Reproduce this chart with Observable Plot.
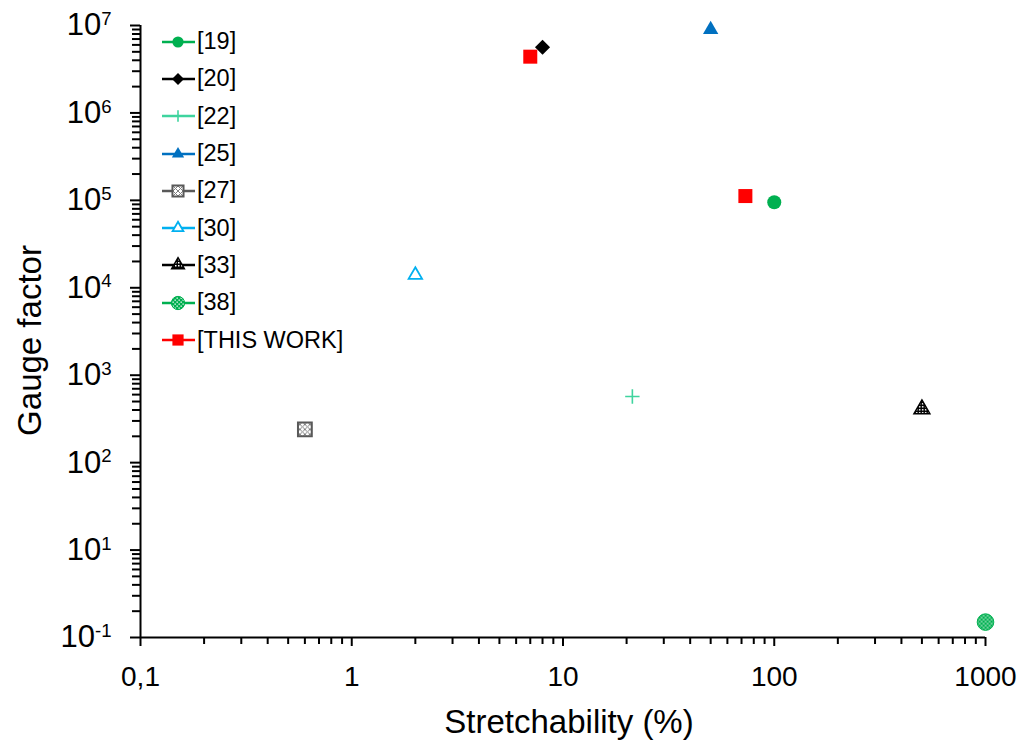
<!DOCTYPE html>
<html>
<head>
<meta charset="utf-8">
<script src="https://cdn.jsdelivr.net/npm/d3@7"></script>
<script src="https://cdn.jsdelivr.net/npm/@observablehq/plot@0.6"></script>
<style>
  html, body { margin: 0; padding: 0; background: #fff; }
  #wrap { position: relative; width: 1027px; height: 747px; font-family: "Liberation Sans", Arial, sans-serif; }
  #legend { position: absolute; left: 161px; top: 23px; }
  .row { display: flex; align-items: center; height: 37.3px; font-size: 23.5px; color: #000; }
  .row svg { display: block; overflow: visible; }
</style>
</head>
<body>
<div id="wrap"><div id="legend"></div></div>
<script>
// ---- data ----
const series = ["[19]", "[20]", "[22]", "[25]", "[27]", "[30]", "[33]", "[38]", "[THIS WORK]"];
const pointRef = ["[19]", "[20]", "[22]", "[25]", "[27]", "[30]", "[33]", "[38]", "[THIS WORK]", "[THIS WORK]"];
const stretchability = [100, 8, 21.3, 50, 0.6, 2, 500, 1000, 7, 73];
const gaugeFactor = [9.5e4, 5.65e6, 570, 9e6, 240, 1.4e4, 410, 0.15, 4.4e6, 1.12e5];
const xTicks = [0.1, 1, 10, 100, 1000];
const xTickLabels = ["0,1", "1", "10", "100", "1000"];
const yTicks = [1, 10, 1e2, 1e3, 1e4, 1e5, 1e6, 1e7];
const yTickLabels = ["10|-1", "10|1", "10|2", "10|3", "10|4", "10|5", "10|6", "10|7"];
const xTitle = "Stretchability (%)";
const yTitle = "Gauge factor";

// ---- styles ----
const styles = {
  "[19]": {symbol: "circle", r: 7, fill: "#00b050", stroke: "none", sw: 0, line: "#00b050"},
  "[20]": {symbol: "diamond2", r: 6.8, fill: "#000000", stroke: "none", sw: 0, line: "#000000"},
  "[22]": {symbol: "plus", r: 4.7, fill: "none", stroke: "#3fd49e", sw: 1.6, line: "#3fd49e"},
  "[25]": {symbol: "triangle", r: 5.7, fill: "#0070c0", stroke: "none", sw: 0, line: "#0070c0"},
  "[27]": {symbol: "square", r: 7.8, fill: "url(#p27)", stroke: "#595959", sw: 2, line: "#595959"},
  "[30]": {symbol: "triangle", r: 5.0, fill: "#ffffff", stroke: "#00b0f0", sw: 1.8, line: "#00b0f0"},
  "[33]": {symbol: "triangle", r: 5.9, fill: "url(#p33)", stroke: "#000000", sw: 1.5, line: "#000000"},
  "[38]": {symbol: "circle", r: 8.3, fill: "url(#p38)", stroke: "#00b050", sw: 1, line: "#00b050"},
  "[THIS WORK]": {symbol: "square", r: 7.9, fill: "#ff0000", stroke: "none", sw: 0, line: "#ff0000"}
};

const points = pointRef.map((s, i) => ({series: s, x: stretchability[i], y: gaugeFactor[i]}));

const decade = (lo, hi) => d3.range(lo, hi).flatMap(k => d3.range(2, 10).map(m => m * Math.pow(10, k)));
const xMinor = decade(-1, 3);
const yMinor = decade(0, 7);

const font = '"Liberation Sans", Arial, sans-serif';

const dotMarks = series.map(s => {
  const st = styles[s];
  return Plot.dot(points.filter(p => p.series === s), {
    x: "x", y: "y", symbol: st.symbol, r: st.r, fill: st.fill,
    stroke: st.stroke, strokeWidth: st.sw
  });
});

const chart = Plot.plot({
  width: 1027,
  height: 747,
  marginLeft: 140,
  marginRight: 42,
  marginTop: 25,
  marginBottom: 110,
  style: {fontFamily: font, color: "#000", background: "#fff"},
  x: {type: "log", domain: [0.1, 1000]},
  y: {type: "log", domain: [1, 1e7], transform: v => (v < 1 ? v * 10 : v)},
  marks: [
    Plot.axisX(xMinor, {tickSize: 7, strokeWidth: 2, tickFormat: () => "", label: null}),
    Plot.axisX(xTicks, {tickSize: 9, strokeWidth: 2, tickPadding: 20, fontSize: 28,
      tickFormat: d => xTickLabels[xTicks.indexOf(d)], label: null}),
    Plot.axisY(yMinor, {tickSize: 8, strokeWidth: 2, tickFormat: () => "", label: null}),
    Plot.axisY(yTicks, {tickSize: 10, strokeWidth: 2, tickPadding: 19, fontSize: 31,
      tickFormat: d => yTickLabels[yTicks.indexOf(d)], label: null}),
    Plot.ruleX([0.1], {strokeWidth: 2}),
    Plot.ruleY([1], {strokeWidth: 2}),
    Plot.text([yTitle], {text: d => d, frameAnchor: "left", textAnchor: "middle", lineAnchor: "middle",
      rotate: -90, dx: -110, dy: 9, fontSize: 33}),
    Plot.text([xTitle], {text: d => d, frameAnchor: "bottom", textAnchor: "middle", lineAnchor: "middle",
      dx: 6, dy: 85, fontSize: 33}),
    ...dotMarks
  ]
});

// patterns for hatched markers
const ns = "http://www.w3.org/2000/svg";
const defs = d3.create("svg:defs");
const p27 = defs.append("pattern").attr("id", "p27").attr("patternUnits", "userSpaceOnUse").attr("width", 5).attr("height", 5);
p27.append("rect").attr("width", 5).attr("height", 5).attr("fill", "#ffffff");
p27.append("path").attr("d", "M0,0L5,5M5,0L0,5").attr("stroke", "#7f7f7f").attr("stroke-width", 1);
const p33 = defs.append("pattern").attr("id", "p33").attr("patternUnits", "userSpaceOnUse").attr("width", 3).attr("height", 3);
p33.append("rect").attr("width", 3).attr("height", 3).attr("fill", "#000000");
p33.append("rect").attr("width", 1.5).attr("height", 1.5).attr("fill", "#ffffff");
const p38 = defs.append("pattern").attr("id", "p38").attr("patternUnits", "userSpaceOnUse").attr("width", 4).attr("height", 4);
p38.append("rect").attr("width", 4).attr("height", 4).attr("fill", "#00b050");
p38.append("rect").attr("x", 0.5).attr("y", 0.5).attr("width", 1.3).attr("height", 1.3).attr("fill", "#ffffff");
p38.append("rect").attr("x", 2.5).attr("y", 2.5).attr("width", 1.3).attr("height", 1.3).attr("fill", "#ffffff");
chart.insertBefore(defs.node(), chart.firstChild);

// superscript exponents on y tick labels
chart.querySelectorAll('g[aria-label="y-axis tick label"] text').forEach(t => {
  const parts = t.textContent.split("|");
  if (parts.length !== 2) return;
  t.textContent = parts[0];
  const ts = document.createElementNS(ns, "tspan");
  ts.setAttribute("dy", "-0.55em");
  ts.setAttribute("font-size", "0.6em");
  ts.textContent = parts[1];
  t.appendChild(ts);
});

const wrap = document.getElementById("wrap");
wrap.insertBefore(chart, wrap.firstChild);

// legend
const symMap = {circle: d3.symbolCircle, diamond2: d3.symbolDiamond2, plus: d3.symbolPlus, triangle: d3.symbolTriangle, square: d3.symbolSquare};
const legend = d3.select("#legend");
series.forEach(s => {
  const st = styles[s];
  const row = legend.append("div").attr("class", "row");
  const sv = row.append("svg").attr("width", 36).attr("height", 20);
  sv.append("line").attr("x1", 1).attr("x2", 34).attr("y1", 10).attr("y2", 10)
    .attr("stroke", st.line).attr("stroke-width", 2.6);
  const rr = st.r * 0.8;
  sv.append("path")
    .attr("transform", "translate(17,10)")
    .attr("d", d3.symbol(symMap[st.symbol], Math.PI * rr * rr)())
    .attr("fill", st.fill).attr("stroke", st.stroke === "none" ? null : st.stroke)
    .attr("stroke-width", st.sw);
  row.append("span").text(s);
});
</script>
</body>
</html>
